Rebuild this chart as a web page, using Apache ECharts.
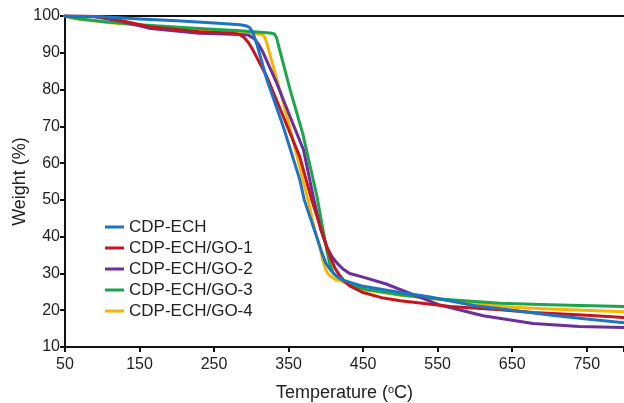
<!DOCTYPE html>
<html>
<head>
    <meta charset="utf-8" />
    <title>TGA curves</title>
    <script src="https://cdn.jsdelivr.net/npm/echarts@6/dist/echarts.min.js"></script>
    <style>
        body { margin: 0; background: #ffffff; }
    </style>
</head>
<body>
<div id="main" style="width: 624px;height:403px;"></div>
<script type="text/javascript">
    // 样品名称
    var sampleNames = ['CDP-ECH', 'CDP-ECH/GO-1', 'CDP-ECH/GO-2', 'CDP-ECH/GO-3', 'CDP-ECH/GO-4'];
    var xTicks = [50, 150, 250, 350, 450, 550, 650, 750];

    // [温度, 失重%]
    var cdpEch = [[50,100],[100,99.8],[150,99.2],[200,98.7],[250,98.1],[285,97.6],[294,97.3],[298,96.8],[302,95.5],[307,92.6],[321,82.6],[343,69.8],[365,55.5],[371,50],[386,41],[394,36],[400,32.8],[406,31],[414,29.3],[423,28.2],[450,26.5],[500,24.8],[540,23.6],[600,21.2],[634,20.4],[700,18.7],[750,17.6],[800,16.6]];
    var go1 = [[50,100],[90,99.9],[120,99],[165,97],[230,95.7],[275,95.3],[284,95],[290,94.2],[296,92.8],[302,90.8],[321,83.4],[343,72.6],[365,61.7],[381,50],[392,43],[400,38],[406,34.5],[412,31.5],[418,29.6],[425,27.8],[432,26.6],[450,24.8],[477,23.3],[500,22.6],[567,21],[634,20.1],[678,19.4],[750,18.6],[800,18]];
    var go2 = [[50,100],[90,99.8],[120,98.8],[165,96.6],[230,95.3],[285,95],[296,94.8],[304,93.8],[310,92.2],[316,90],[334,81.8],[352,72.6],[370,63.6],[384,50],[393,42],[401,37.3],[408,34.6],[415,32.8],[423,31.2],[432,30],[450,29],[480,27.2],[513,24.6],[553,21.4],[611,18.5],[678,16.4],[740,15.6],[800,15.3]];
    var go3 = [[50,100],[70,99.2],[100,98.5],[150,97.6],[230,96.6],[285,96],[325,95.4],[331,95.1],[334,94],[338,90.8],[352,80],[369,68],[388,51],[396,42],[401,36.5],[405,32.8],[410,30],[417,28.8],[425,28],[441,26.4],[455,25.6],[500,24.2],[544,23.2],[600,22.4],[634,21.9],[700,21.5],[800,21]];
    var go4 = [[50,100],[60,99.4],[100,98.4],[150,97.5],[230,96.2],[285,95.6],[314,95],[318,94.3],[321,92.5],[325,89.5],[343,76.3],[360,63],[376,50],[385,42],[392,37],[396,33.5],[400,31],[404,29.6],[412,28.4],[423,27.8],[450,25.6],[500,24.1],[544,23.1],[600,21.8],[650,20.8],[700,20.3],[800,19.6]];

    var colors = ['#1c74c4', '#c4161c', '#6b2f9c', '#1ba64b', '#f7b500'];
    var allData = [cdpEch, go1, go2, go3, go4];

    var myChart = echarts.init(document.getElementById('main'));

    var series = allData.map(function (d, i) {
        return {
            name: sampleNames[i],
            type: 'line',
            data: d,
            showSymbol: false,
            smooth: false,
            z: 10 - i,
            lineStyle: { width: 3, color: colors[i], join: 'round', cap: 'round' },
            itemStyle: { color: colors[i] }
        };
    });

    var option = {
        backgroundColor: '#ffffff',
        animation: false,
        color: colors,
        textStyle: { fontFamily: 'Liberation Sans, Arial, sans-serif', color: '#222' },
        grid: { left: 65, right: 0, top: 16, bottom: 56, outerBoundsMode: 'none' },
        legend: {
            data: sampleNames,
            orient: 'vertical',
            left: 100,
            top: 213,
            icon: 'rect',
            itemWidth: 19,
            itemHeight: 3,
            itemGap: 3,
            textStyle: { fontSize: 17, color: '#222', lineHeight: 18 }
        },
        xAxis: [
            {
                type: 'value',
                min: 50,
                max: 800,
                interval: 100,
                name: '{n|Temperature (}{s|o}{n|C)}',
                nameLocation: 'middle',
                nameGap: 37,
                nameMoveOverlap: false,
                nameTextStyle: {
                    rich: {
                        n: { fontSize: 18, color: '#222' },
                        s: { fontSize: 11, color: '#222', verticalAlign: 'top', padding: [0, 0, 7, 0] }
                    }
                },
                axisLine: { lineStyle: { color: '#111', width: 2 } },
                axisTick: { length: 5, lineStyle: { color: '#111', width: 2 } },
                axisLabel: {
                    fontSize: 16,
                    color: '#222',
                    margin: 10,
                    customValues: xTicks
                },
                splitLine: { show: false }
            },
            {
                type: 'value',
                position: 'top',
                min: 50,
                max: 800,
                axisLine: { show: true, lineStyle: { color: '#111', width: 2 } },
                axisTick: { show: false },
                axisLabel: { show: false },
                splitLine: { show: false }
            }
        ],
        yAxis: {
            type: 'value',
            min: 10,
            max: 100,
            interval: 10,
            name: 'Weight (%)',
            nameLocation: 'middle',
            nameGap: 36,
            nameMoveOverlap: false,
            nameTextStyle: { fontSize: 18, color: '#222' },
            axisLine: { show: true, lineStyle: { color: '#111', width: 2 } },
            axisTick: { show: true, length: 5, lineStyle: { color: '#111', width: 2 } },
            axisLabel: { fontSize: 16, color: '#222', margin: 5 },
            splitLine: { show: false }
        },
        series: series
    };

    myChart.setOption(option);
</script>
</body>
</html>
